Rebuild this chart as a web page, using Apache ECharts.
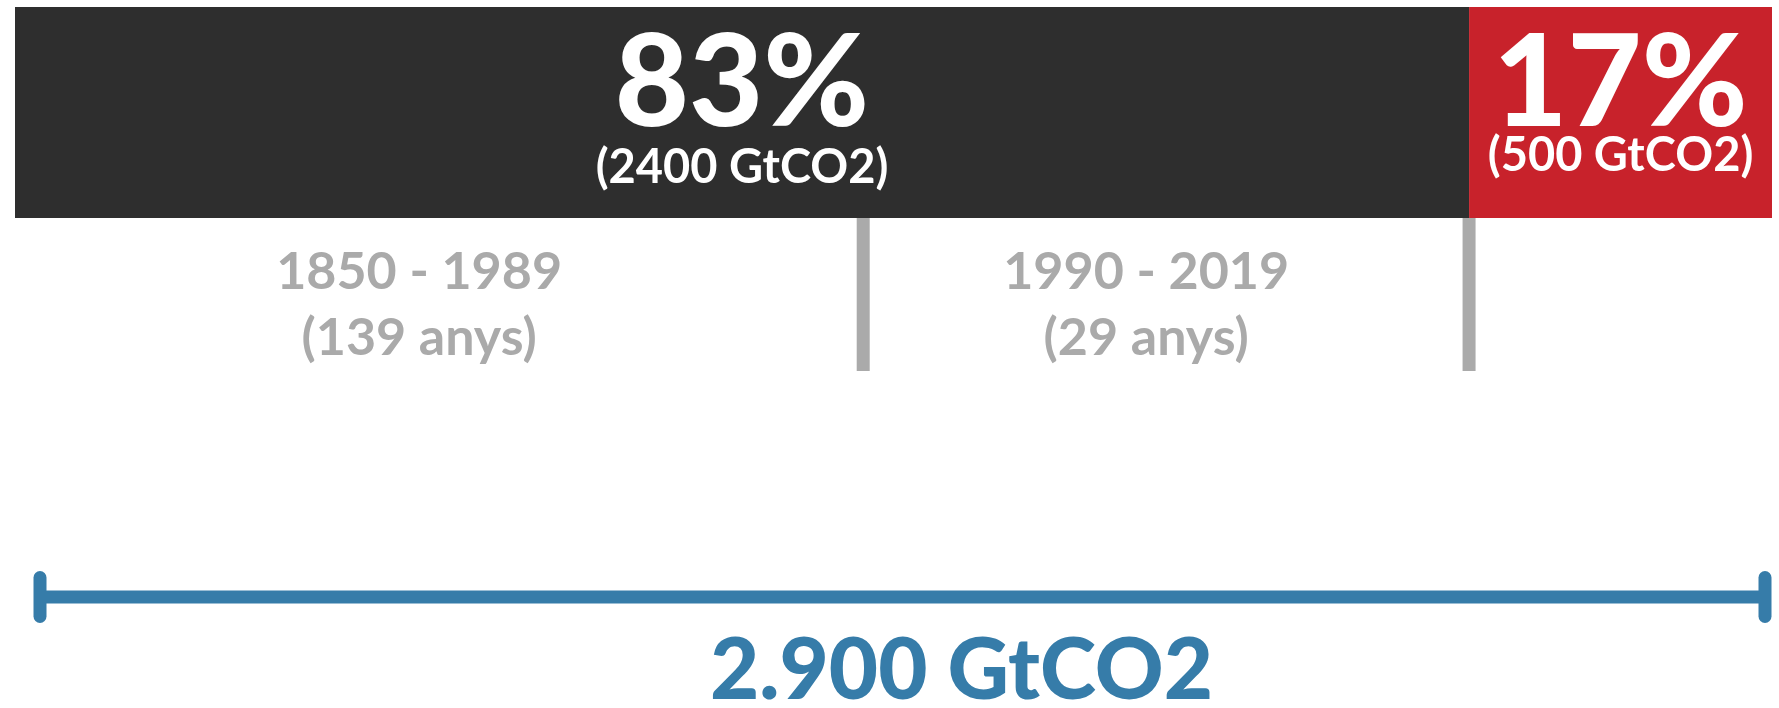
<!DOCTYPE html>
<html>
<head>
<meta charset="utf-8">
<script src="https://cdn.jsdelivr.net/npm/echarts@6/dist/echarts.min.js"></script>
<style>
  html, body { margin: 0; padding: 0; background: #fff; }
  #chart { width: 1779px; height: 708px; }
</style>
</head>
<body>
<div id="chart"></div>
<script>
// emissions split (GtCO2)
const segmentNames = ["1850 - 2019", "Restant"];
const segmentValues = [2400, 500];
const segmentColors = ["#2e2e2e", "#c8222b"];

// sub periods of the historic emissions
const periodNames = ["1850 - 1989", "1990 - 2019"];
const periodYears = ["(139 anys)", "(29 anys)"];
const periodBounds = [[0, 1400], [1400, 2400]];

const total = segmentValues.reduce((a, b) => a + b, 0);
const FONT = "Lato";

const chart = echarts.init(document.getElementById("chart"));

// separators sit at the end of every period
const separators = periodBounds.map((p) => [p[1], 0]);

const option = {
  backgroundColor: "#fff",
  animation: false,
  grid: [
    { left: 15, right: 7, top: 7, height: 211 },
    { left: 15, right: 7, top: 218, height: 153 },
    { left: 40, right: 14, top: 571, height: 52 },
  ],
  xAxis: [0, 1, 2].map((i) => ({
    type: "value",
    gridIndex: i,
    min: 0,
    max: total,
    show: false,
  })),
  yAxis: [
    { type: "category", gridIndex: 0, data: ["total"], show: false },
    { type: "value", gridIndex: 1, min: 0, max: 1, show: false },
    { type: "value", gridIndex: 2, min: 0, max: 1, show: false },
  ],
  series: [
    ...segmentNames.map((name, i) => ({
      name,
      type: "bar",
      stack: "total",
      xAxisIndex: 0,
      yAxisIndex: 0,
      barWidth: "100%",
      itemStyle: { color: segmentColors[i] },
      data: [segmentValues[i]],
      label: {
        show: true,
        position: "inside",
        formatter: () =>
          "{big|" + Math.round((segmentValues[i] / total) * 100) + "%}\n{small|(" +
          segmentValues[i] + " GtCO2)}",
        rich: {
          big: {
            color: "#fff",
            fontFamily: FONT,
            fontWeight: 900,
            fontSize: 128,
            lineHeight: i === 0 ? 110 : 86,
          },
          small: {
            color: "#fff",
            fontFamily: FONT,
            fontWeight: 700,
            fontSize: 47,
            lineHeight: 56,
          },
        },
      },
    })),
    {
      type: "custom",
      xAxisIndex: 1,
      yAxisIndex: 1,
      data: separators,
      renderItem: (params, api) => {
        const x = api.coord([api.value(0), 0])[0];
        const cs = params.coordSys;
        return {
          type: "rect",
          shape: { x: x - 6.5, y: cs.y, width: 13, height: cs.height },
          style: { fill: "#aaaaaa" },
        };
      },
    },
    {
      type: "custom",
      xAxisIndex: 1,
      yAxisIndex: 1,
      data: periodBounds.map((p) => [(p[0] + p[1]) / 2, 0]),
      renderItem: (params, api) => {
        const i = params.dataIndex;
        const x = api.coord([api.value(0), 0])[0];
        return {
          type: "text",
          x: x - 20,
          y: 305,
          style: {
            text: periodNames[i] + "\n" + periodYears[i],
            fill: "#aaaaaa",
            fontFamily: FONT,
            fontWeight: 700,
            fontSize: 52,
            lineHeight: 66,
            align: "center",
            verticalAlign: "middle",
          },
        };
      },
    },
    {
      type: "custom",
      xAxisIndex: 2,
      yAxisIndex: 2,
      data: [[0, total]],
      renderItem: (params, api) => {
        const a = api.coord([api.value(0), 0.5]);
        const b = api.coord([api.value(1), 0.5]);
        const cs = params.coordSys;
        const blue = "#367ca9";
        return {
          type: "group",
          children: [
            {
              type: "line",
              shape: { x1: a[0], y1: a[1], x2: b[0], y2: b[1] },
              style: { stroke: blue, lineWidth: 13 },
            },
            {
              type: "rect",
              shape: { x: a[0] - 6.5, y: cs.y, width: 13, height: cs.height, r: 6.5 },
              style: { fill: blue },
            },
            {
              type: "rect",
              shape: { x: b[0] - 6.5, y: cs.y, width: 13, height: cs.height, r: 6.5 },
              style: { fill: blue },
            },
            {
              type: "text",
              x: (a[0] + b[0]) / 2 + 59,
              y: 672,
              style: {
                text: total.toLocaleString("de-DE") + " GtCO2",
                fill: blue,
                fontFamily: FONT,
                fontWeight: 900,
                fontSize: 85,
                align: "center",
                verticalAlign: "middle",
              },
            },
          ],
        };
      },
    },
  ],
};

chart.setOption(option);
window.addEventListener("resize", () => chart.resize());
</script>
</body>
</html>
